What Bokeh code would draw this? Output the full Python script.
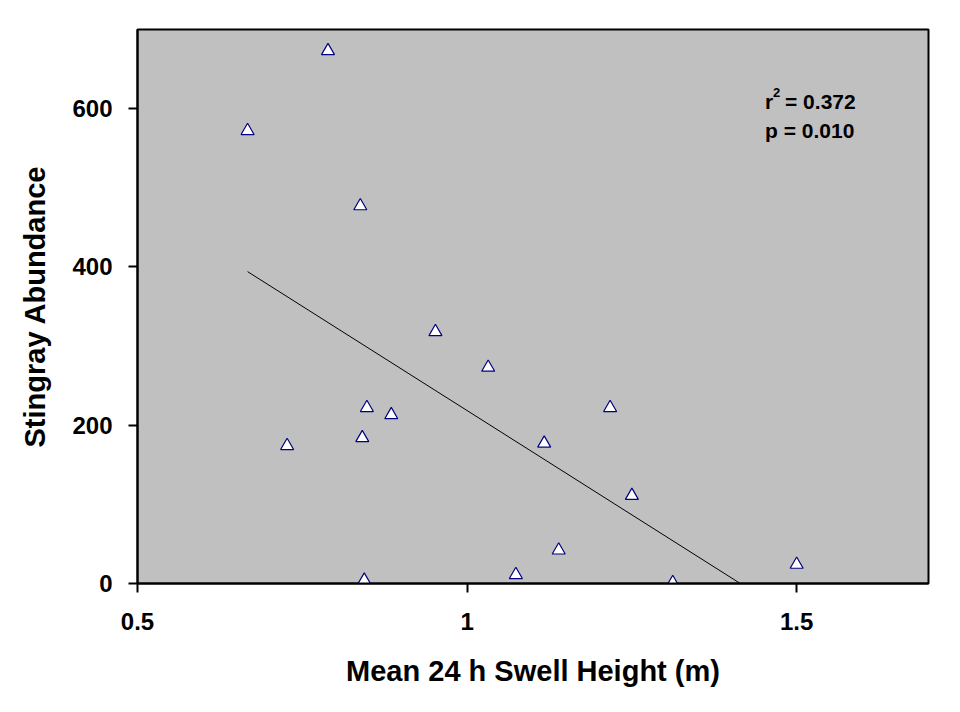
import numpy as np
from bokeh.plotting import figure
from bokeh.models import Range1d, FixedTicker, Label
from bokeh.embed import file_html
from bokeh.resources import INLINE

swell_height = [0.667, 0.789, 0.838, 0.727, 0.841, 0.848, 0.885, 0.844, 0.952,
                1.032, 1.074, 1.117, 1.139, 1.217, 1.250, 1.312, 1.500]
abundance = [572, 673, 477, 174, 184, 222, 213, 4, 318,
             273, 11, 177, 42, 222, 111, 1, 24]
x_ticks = [0.5, 1.0, 1.5]
x_tick_labels = {0.5: "0.5", 1.0: "1", 1.5: "1.5"}
y_ticks = [0, 200, 400, 600]
r2_text = ["r", "2", "= 0.372"]
p_text = "p = 0.010"

FONT = "Liberation Sans"

p = figure(width=952, height=704, output_backend="svg", toolbar_location=None,
           x_range=Range1d(0.5, 1.7), y_range=Range1d(0, 700),
           min_border_left=137, min_border_top=29, min_border_right=24,
           min_border_bottom=121)
p.background_fill_color = "#C0C0C0"
p.border_fill_color = "white"
p.outline_line_color = "black"
p.outline_line_width = 2
p.xgrid.grid_line_color = None
p.ygrid.grid_line_color = None

# regression line
xs = np.array(swell_height)
ys = np.array(abundance)
slope, intercept = np.polyfit(xs, ys, 1)
fx = np.array([xs.min(), xs.max()])
p.line(fx, slope * fx + intercept, line_color="black", line_width=1)

p.scatter(swell_height, abundance, marker="triangle", size=13,
          fill_color="white", line_color="#000080", line_width=1.2)

for ax in (p.xaxis[0], p.yaxis[0]):
    ax.axis_line_width = 2
    ax.axis_line_color = "black"
    ax.major_tick_line_width = 2
    ax.major_tick_out = 9
    ax.major_tick_in = 0
    ax.minor_tick_out = 0
    ax.minor_tick_in = 0
    ax.major_label_text_font = FONT
    ax.major_label_text_font_style = "bold"
    ax.major_label_text_font_size = "24px"
    ax.major_label_text_color = "black"
    ax.axis_label_text_font = FONT
    ax.axis_label_text_font_style = "bold"
    ax.axis_label_text_color = "black"

p.xaxis.ticker = FixedTicker(ticks=x_ticks)
p.xaxis.major_label_overrides = x_tick_labels
p.yaxis.ticker = FixedTicker(ticks=y_ticks)
p.xaxis.axis_label = "Mean 24 h Swell Height (m)"
p.yaxis.axis_label = "Stingray Abundance"
p.xaxis.axis_label_text_font_size = "29px"
p.yaxis.axis_label_text_font_size = "29px"
p.xaxis.major_label_standoff = 20
p.yaxis.major_label_standoff = 16
p.xaxis.axis_label_standoff = 22
p.yaxis.axis_label_standoff = 18

# statistics text
common = dict(text_font=FONT, text_font_style="bold", text_baseline="middle",
              text_color="black")
p.add_layout(Label(x=1.452, y=609, text=r2_text[0], text_font_size="21px", **common))
p.add_layout(Label(x=1.452, y=609, x_offset=8, y_offset=9, text=r2_text[1],
                   text_font_size="13px", **common))
p.add_layout(Label(x=1.452, y=609, x_offset=20, text=r2_text[2],
                   text_font_size="21px", **common))
p.add_layout(Label(x=1.452, y=572, text=p_text, text_font_size="21px", **common))

open("out.html", "w").write(file_html(p, INLINE))
